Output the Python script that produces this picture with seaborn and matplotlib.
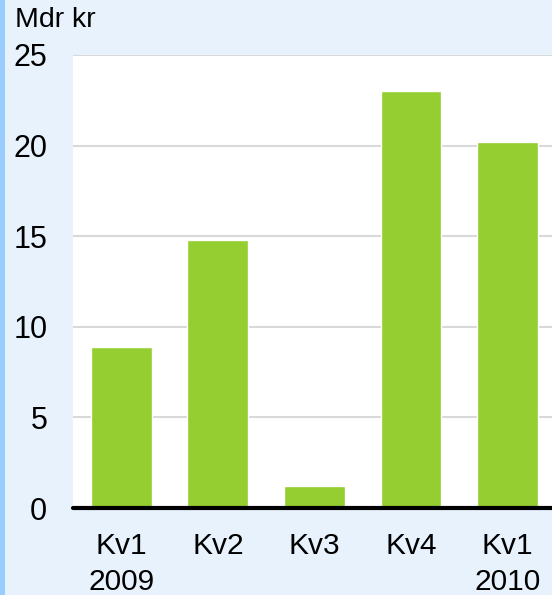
import pandas as pd
import matplotlib
matplotlib.use("Agg")
import matplotlib.pyplot as plt
import seaborn as sns
from matplotlib.patches import Rectangle

# data
quarters = ["Kv1\n2009", "Kv2", "Kv3", "Kv4", "Kv1\n2010"]
values = [8.9, 14.8, 1.2, 23.0, 20.2]
yticks = [0, 5, 10, 15, 20, 25]

df = pd.DataFrame({"kvartal": quarters, "mdr": values})

sns.set_theme(style="white")
plt.rcParams["font.family"] = ["Liberation Sans", "DejaVu Sans"]

bg = "#E8F2FD"
fig = plt.figure(figsize=(5.52, 5.95), dpi=100, facecolor=bg)
ax = fig.add_axes([73 / 552, 87 / 595, 1 - 73 / 552, 453 / 595])
ax.set_facecolor("white")

sns.barplot(data=df, x="kvartal", y="mdr", color="#94CE30", width=0.63,
            saturation=1, ax=ax, zorder=3)

ax.set_ylim(0, 25)
ax.set_xlim(-0.5, 4.46)
ax.set_yticks(yticks)
ax.set_yticklabels([str(t) for t in yticks])
ax.yaxis.grid(True, color="#D9D9D9", linewidth=1.5, zorder=0)
ax.xaxis.grid(False)
ax.set_axisbelow(True)
ax.axhline(0, color="black", linewidth=3, zorder=4, clip_on=False)

for s in ax.spines.values():
    s.set_visible(False)

ax.tick_params(axis="y", length=0, pad=18.5, labelsize=22, colors="black")
ax.tick_params(axis="x", length=0, pad=17, labelsize=21.5, colors="black")
for lbl in ax.get_xticklabels():
    lbl.set_linespacing(1.4)
ax.set_xlabel("")
ax.set_ylabel("")

fig.text(15 / 552, 1 - 20 / 595, "Mdr kr", fontsize=20.5, ha="left",
         va="center", color="black")

# blue stripe at the left edge
fig.patches.append(Rectangle((0, 0), 5 / 552, 1, transform=fig.transFigure,
                             facecolor="#99CCFF", edgecolor="none"))

fig.savefig("out.png", dpi=100, facecolor=bg)
